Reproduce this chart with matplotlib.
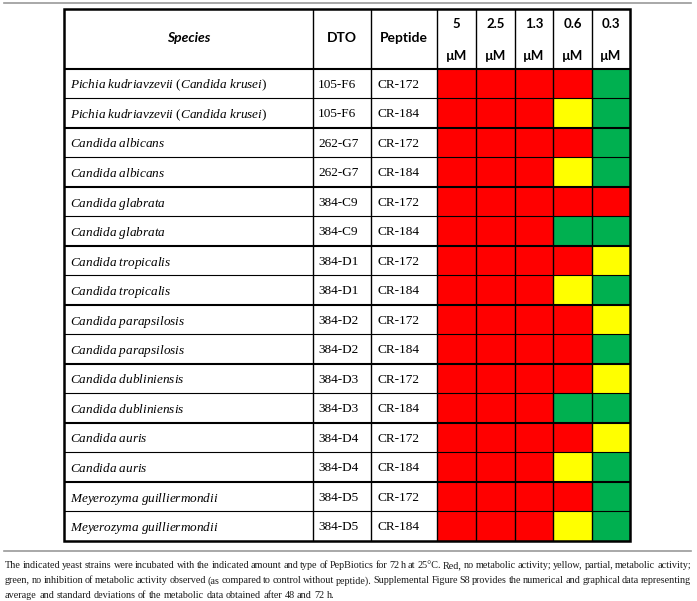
import matplotlib.pyplot as plt
from matplotlib.patches import Rectangle

plt.rcParams['mathtext.fontset'] = 'custom'
plt.rcParams['mathtext.rm'] = 'Liberation Serif'
plt.rcParams['mathtext.it'] = 'Liberation Serif:italic'

# Table data
species = ['Pichia kudriavzevii (Candida krusei)', 'Pichia kudriavzevii (Candida krusei)',
           'Candida albicans', 'Candida albicans',
           'Candida glabrata', 'Candida glabrata',
           'Candida tropicalis', 'Candida tropicalis',
           'Candida parapsilosis', 'Candida parapsilosis',
           'Candida dubliniensis', 'Candida dubliniensis',
           'Candida auris', 'Candida auris',
           'Meyerozyma guilliermondii', 'Meyerozyma guilliermondii']
dto = ['105-F6', '105-F6', '262-G7', '262-G7', '384-C9', '384-C9', '384-D1', '384-D1',
       '384-D2', '384-D2', '384-D3', '384-D3', '384-D4', '384-D4', '384-D5', '384-D5']
peptide = ['CR-172', 'CR-184'] * 8
concentrations = ['5', '2.5', '1.3', '0.6', '0.3']
# R = no metabolic activity, Y = partial, G = no inhibition
activity = ['RRRRG', 'RRRYG',
            'RRRRG', 'RRRYG',
            'RRRRR', 'RRRGG',
            'RRRRY', 'RRRYG',
            'RRRRY', 'RRRRG',
            'RRRRY', 'RRRGG',
            'RRRRY', 'RRRYG',
            'RRRRG', 'RRRYG']
caption = [
    'The indicated yeast strains were incubated with the indicated amount and type of PepBiotics for 72 h at 25°C. '
    'Red, no metabolic activity; yellow, partial, metabolic activity;',
    'green, no inhibition of metabolic activity observed (as compared to control without peptide). '
    'Supplemental Figure S8 provides the numerical and graphical data representing',
    'average and standard deviations of the metabolic data obtained after 48 and 72 h.',
]

colors = {'R': '#ff0000', 'Y': '#ffff00', 'G': '#00b050'}
serif = 'Liberation Serif'
sans = 'Lato'

# Layout in pixels
W, H = 697, 601
col_edges = [64, 313, 371, 437, 476.4, 514.8, 553.2, 591.6, 630]
top, head_bottom, row_h = 8.5, 68.5, 29.5


def italic_label(name):
    # italic species names, upright parentheses
    out = ''
    for part in name.replace('(', '|(|').replace(')', '|)|').split('|'):
        if part in ('(', ')'):
            out += part
        elif part.strip():
            lead = ' ' if part.startswith(' ') else ''
            trail = ' ' if part.endswith(' ') else ''
            out += lead + r'$\mathit{' + part.strip().replace(' ', r'\ ') + '}$' + trail
    return out


fig = plt.figure(figsize=(W / 100, H / 100), dpi=100)
ax = fig.add_axes([0, 0, 1, 1])
ax.set_xlim(0, W)
ax.set_ylim(H, 0)
ax.axis('off')

n_rows = len(species)
bottom = head_bottom + n_rows * row_h

# coloured cells
for i, row in enumerate(activity):
    y = head_bottom + i * row_h
    for j, c in enumerate(row):
        x0, x1 = col_edges[3 + j], col_edges[4 + j]
        ax.add_patch(Rectangle((x0, y), x1 - x0, row_h, facecolor=colors[c], edgecolor='none'))

# text in rows
for i in range(n_rows):
    yc = head_bottom + (i + 0.5) * row_h
    ax.text(col_edges[0] + 6, yc, italic_label(species[i]), fontsize=9.5, family=serif,
            va='center_baseline', ha='left')
    ax.text(col_edges[1] + 5, yc, dto[i], fontsize=9.5, family=serif, va='center_baseline', ha='left')
    ax.text(col_edges[2] + 6, yc, peptide[i], fontsize=9.5, family=serif, va='center_baseline', ha='left')

# header
hc = (top + head_bottom) / 2
ax.text((col_edges[0] + col_edges[1]) / 2, hc, 'Species', fontsize=10, family=sans,
        fontweight='bold', style='italic', ha='center', va='center')
ax.text((col_edges[1] + col_edges[2]) / 2, hc, 'DTO', fontsize=10, family=sans,
        fontweight='bold', ha='center', va='center')
ax.text((col_edges[2] + col_edges[3]) / 2, hc, 'Peptide', fontsize=10, family=sans,
        fontweight='bold', ha='center', va='center')
for j, conc in enumerate(concentrations):
    xc = (col_edges[3 + j] + col_edges[4 + j]) / 2
    ax.text(xc, top + 16, conc, fontsize=9.5, family=sans, fontweight='bold', ha='center', va='center')
    ax.text(xc, top + 47, 'µM', fontsize=9.5, family=sans, fontweight='bold', ha='center', va='center')

# grid lines
for j, x in enumerate(col_edges[1:-1]):
    ax.plot([x, x], [top, bottom], color='black', lw=1.0, solid_capstyle='butt')
for i in range(n_rows):
    y = head_bottom + i * row_h
    ax.plot([col_edges[0], col_edges[-1]], [y, y], color='black',
            lw=1.5 if i % 2 == 0 else 0.8, solid_capstyle='butt')
ax.add_patch(Rectangle((col_edges[0], top), col_edges[-1] - col_edges[0], bottom - top,
                       facecolor='none', edgecolor='black', lw=1.8))

# grey rules
for y in (2.5, 551):
    ax.plot([4, 691], [y, y], color='#9a9a9a', lw=1.2)

# justified caption
renderer = fig.canvas.get_renderer()
x_left, x_right = 5, 691
for k, line in enumerate(caption):
    y = 565 + k * 14.8
    words = line.split(' ')
    texts = [ax.text(0, y, w, fontsize=7.3, family=serif, color='#1a1a1a', va='center_baseline')
             for w in words]
    widths = [t.get_window_extent(renderer).width for t in texts]
    if k < len(caption) - 1:
        gap = (x_right - x_left - sum(widths)) / (len(words) - 1)
    else:
        gap = 2.4
    x = x_left
    for t, w in zip(texts, widths):
        t.set_x(x)
        x += w + gap

fig.savefig('out.png', dpi=100)
